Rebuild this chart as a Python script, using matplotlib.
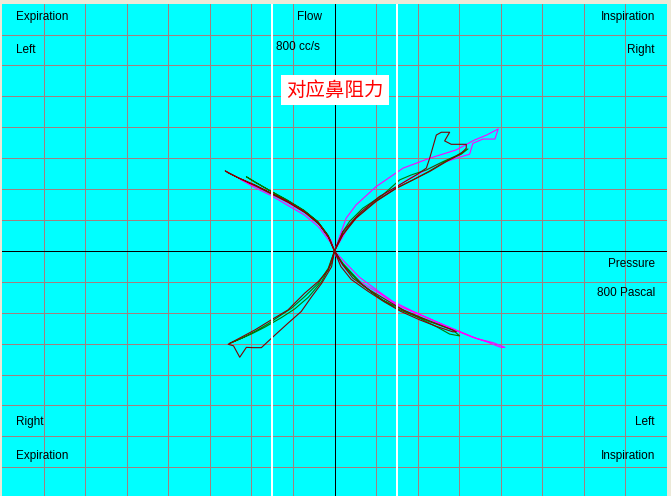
import matplotlib.pyplot as plt

# pressure in Pascal, flow in cc/s (grid = 100)
grid_ticks = [-700, -600, -500, -400, -300, -200, -100, 100, 200, 300, 400, 500, 600, 700]
ref_pressure = [-150, 150]

# dark red trace, right nostril (inspiration up-right, expiration down-left)
red_r_p = [0, 20, 60, 108, 149, 197, 221, 229, 245, 257, 277, 265, 281, 317, 317,
           305, 269, 229, 149, 100, 52, 20, 0,
           -7, -31, -55, -80, -112, -152, -176, -196, -212, -228, -243, -256,
           -224, -192, -152, -112, -72, -39, -15, 0]
red_r_f = [0, 62, 122, 176, 208, 246, 268, 300, 375, 384, 384, 356, 345, 345, 332,
           316, 289, 257, 203, 160, 106, 52, 0,
           -51, -105, -148, -196, -234, -283, -313, -313, -312, -344, -307, -302,
           -279, -256, -223, -191, -137, -99, -61, 0]
# dark red trace, left nostril
red_l_p = [0, -15, -39, -72, -112, -152, -192, -232, -263,
           -255, -226, -190, -150, -110, -70, -37, -13, 0]
red_l_f = [0, 46, 90, 127, 160, 187, 214, 237, 259,
           252, 233, 210, 183, 156, 123, 86, 42, 0]
red_l2_p = [0, 20, 44, 84, 125, 165, 213, 253, 293,
            285, 245, 205, 160, 120, 80, 40, 15, 0]
red_l2_f = [0, -45, -88, -126, -159, -191, -218, -239, -261,
            -262, -244, -223, -196, -165, -130, -92, -50, 0]

# green trace
green_r_p = [0, 20, 36, 68, 116, 157, 185, 221, 261, 293, 321,
             305, 269, 229, 189, 149, 100, 52, 20, 0,
             -15, -39, -72, -104, -128, -160, -192, -224, -252,
             -200, -168, -128, -96, -63, -31, -7, 0]
green_r_f = [0, 62, 95, 138, 181, 230, 246, 262, 289, 308, 330,
             313, 291, 259, 230, 203, 162, 108, 54, 0,
             -56, -105, -148, -186, -207, -236, -261, -283, -299,
             -269, -247, -216, -188, -150, -99, -40, 0]
green_l_p = [0, -15, -39, -72, -112, -152, -192, -212,
             -196, -155, -114, -74, -41, -17, 0,
             20, 68, 108, 149, 197, 245, 277, 301,
             285, 229, 173, 116, 60, 20, 0]
green_l_f = [0, 50, 93, 129, 162, 192, 224, 240,
             226, 195, 165, 132, 96, 52, 0,
             -40, -110, -153, -186, -213, -245, -269, -275,
             -256, -229, -196, -159, -103, -45, 0]

# magenta trace
mag_r_p = [0, 28, 52, 100, 165, 229, 293, 337, 366, 390, 394,
           386, 357, 333, 325, 293, 245, 181, 133, 84, 36, 4, 0]
mag_r_f = [0, 106, 149, 208, 268, 300, 327, 359, 375, 392, 395,
           362, 362, 348, 313, 300, 278, 235, 192, 149, 84, 9, 0]
mag_l_p = [0, -11, -39, -72, -112, -152, -192, -228,
           -220, -188, -148, -108, -68, -35, -8, 0,
           4, 28, 68, 108, 149, 197, 245, 293, 341, 382, 410,
           400, 370, 330, 285, 240, 190, 140, 100, 60, 24, 0]
mag_l_f = [0, 30, 79, 116, 147, 179, 205, 233,
           228, 208, 183, 152, 121, 84, 34, 0,
           -18, -61, -105, -137, -175, -202, -229, -256, -283, -297, -312,
           -312, -296, -278, -254, -226, -196, -163, -125, -85, -35, 0]

W, H = 671, 496
fig = plt.figure(figsize=(W / 100, H / 100), dpi=100, facecolor='#ece9d8')
ax = fig.add_axes([2 / W, 0, 665 / W, 492 / H])
ax.set_facecolor('#00ffff')
ax.set_xlim(-800, 800)
ax.set_ylim(-793, 799)
ax.axis('off')
ax.add_patch(plt.Rectangle((-800, -800), 1600, 1600, color='#00ffff', zorder=0))

for t in grid_ticks:
    ax.axvline(t, color='#a08080', lw=0.72, snap=True, zorder=1)
    ax.axhline(t, color='#a08080', lw=0.72, snap=True, zorder=1)
ax.axvline(0, color='black', lw=0.72, snap=True, zorder=2)
ax.axhline(0, color='black', lw=0.72, snap=True, zorder=2)

lw = 0.8
ax.plot(mag_r_p, mag_r_f, color='#ff00ff', lw=lw, zorder=3)
ax.plot(mag_l_p, mag_l_f, color='#ff00ff', lw=lw, zorder=3)
ax.plot(green_r_p, green_r_f, color='#007800', lw=lw, zorder=4)
ax.plot(green_l_p, green_l_f, color='#007800', lw=lw, zorder=4)
ax.plot(red_r_p, red_r_f, color='#800000', lw=lw, zorder=5)
ax.plot(red_l_p, red_l_f, color='#800000', lw=lw, zorder=5)
ax.plot(red_l2_p, red_l2_f, color='#800000', lw=lw, zorder=5)

for p in ref_pressure:
    ax.axvline(p, color='white', lw=1.44, snap=True, zorder=6)


def label(x, y, s, ha='left'):
    fig.text(x / W, 1 - y / H, s, ha=ha, va='center', fontsize=8.5,
             family='Liberation Sans', color='black')


label(16, 17, 'Expiration')
label(16, 50, 'Left')
label(309, 17, 'Flow', ha='center')
label(298, 47, '800 cc/s', ha='center')
label(655, 17, 'Inspiration', ha='right')
label(655, 50, 'Right', ha='right')
label(655, 264, 'Pressure', ha='right')
label(655, 293, '800 Pascal', ha='right')
label(16, 422, 'Right')
label(16, 456, 'Expiration')
label(655, 422, 'Left', ha='right')
label(655, 456, 'Inspiration', ha='right')

fig.text(335 / W, 1 - 90 / H, '对应鼻阻力', ha='center', va='center', fontsize=14,
         family=['Noto Sans CJK SC', 'DejaVu Sans'], color='red',
         bbox=dict(facecolor='white', edgecolor='none', boxstyle='square,pad=0.25'))

fig.savefig('out.png', dpi=100, facecolor=fig.get_facecolor())
